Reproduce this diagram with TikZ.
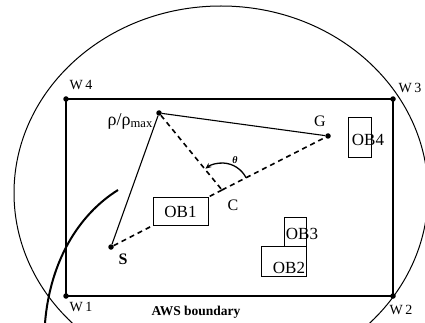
\documentclass[tikz,border=0pt]{standalone}
\usepackage{fontspec}
\setmainfont{Liberation Serif}
\usetikzlibrary{arrows.meta}
\tikzset{
  dot/.style={circle,fill=black,inner sep=0pt,minimum size=5.5pt},
  wlabel/.style={inner sep=0pt,font=\fontsize{14}{14}\selectfont},
  oblabel/.style={inner sep=0pt,font=\fontsize{17}{17}\selectfont},
  ptlabel/.style={inner sep=0pt,font=\fontsize{16}{16}\selectfont},
  obbox/.style={draw,fill=white,line width=1pt},
  dashline/.style={line width=1.6pt,dash pattern=on 5pt off 4pt},
  solidline/.style={line width=1.1pt}
}
\begin{document}
\begin{tikzpicture}[x=1pt,y=-1pt]
\useasboundingbox (0,0) rectangle (425,323);
\begin{scope}
\clip (0,0) rectangle (425,323);
% AWS ellipse
\draw[line width=1pt] (221,193) ellipse [x radius=207, y radius=187];
% boundary rectangle
\coordinate (w1) at (66,296);
\coordinate (w2) at (393,296);
\coordinate (w3) at (393,99);
\coordinate (w4) at (66,99);
\draw[line width=1.1pt] (w1) -- (w2) -- (w3) -- (w4) -- cycle;
% thick curve
\coordinate (c1) at (118,190);
\coordinate (c2) at (45,323);
\draw[line width=2pt] (c1) .. controls (78,215) and (50,262) .. (c2);
\end{scope}
% corner dots and labels
\node[dot] (W1) at (w1) {};
\node[dot] (W2) at (w2) {};
\node[dot] (W3) at (w3) {};
\node[dot] (W4) at (w4) {};
\node[wlabel] (lw4) at (81,85) {W\,4};
\node[wlabel] (lw3) at (410,88) {W\,3};
\node[wlabel] (lw1) at (81,307) {W\,1};
\node[wlabel] (lw2) at (401,310) {W\,2};
\node[inner sep=0pt,font=\bfseries\fontsize{13.5}{13.5}\selectfont] (aws) at (196,312) {AWS boundary};
% points
\node[dot] (S) at (111,247) {};
\node[dot] (R) at (159,113) {};
\node[dot] (G) at (328,136) {};
\coordinate (C) at (222,190);
\node[ptlabel,font=\bfseries\fontsize{16}{16}\selectfont] (Sl) at (123,259) {S};
\node[ptlabel] (Gl) at (320,121) {G};
\node[ptlabel] (Cl) at (233,205) {C};
\node[ptlabel,anchor=east,font=\fontsize{18}{18}\selectfont] (Rl) at (153,121) {ρ/ρ\textsubscript{max}};
% connectors
\draw[solidline] (S) -- (R);
\draw[solidline] (R) -- (G);
\draw[dashline] (S) -- (C);
\draw[dashline] (C) -- (G);
\draw[dashline] (R) -- (C);
% angle theta
\draw[line width=1.3pt,-{Stealth[length=6pt,width=5pt]}] (C) ++(-27:27) arc[start angle=-27,end angle=-128,radius=27];
\node[inner sep=0pt,font=\bfseries\itshape\fontsize{10}{10}\selectfont] (th) at (235,160) {θ};
% obstacles (drawn on top, hiding the line beneath OB1)
\node[obbox,minimum width=55pt,minimum height=28pt,inner sep=0pt] (ob1) at (180.5,211) {};
\node[oblabel] (ob1t) at (180.5,212) {OB1};
\node[obbox,minimum width=45pt,minimum height=30pt,inner sep=0pt] (ob2) at (283.5,261) {};
\node[obbox,minimum width=22pt,minimum height=29pt,inner sep=0pt] (ob3) at (295,231.5) {};
\node[oblabel] (ob3t) at (302,234) {OB3};
\node[oblabel] (ob2t) at (289,268) {OB2};
\node[obbox,minimum width=23pt,minimum height=40pt,inner sep=0pt] (ob4) at (359.5,138) {};
\node[oblabel] (ob4t) at (368,140) {OB4};
\end{tikzpicture}
\end{document}
